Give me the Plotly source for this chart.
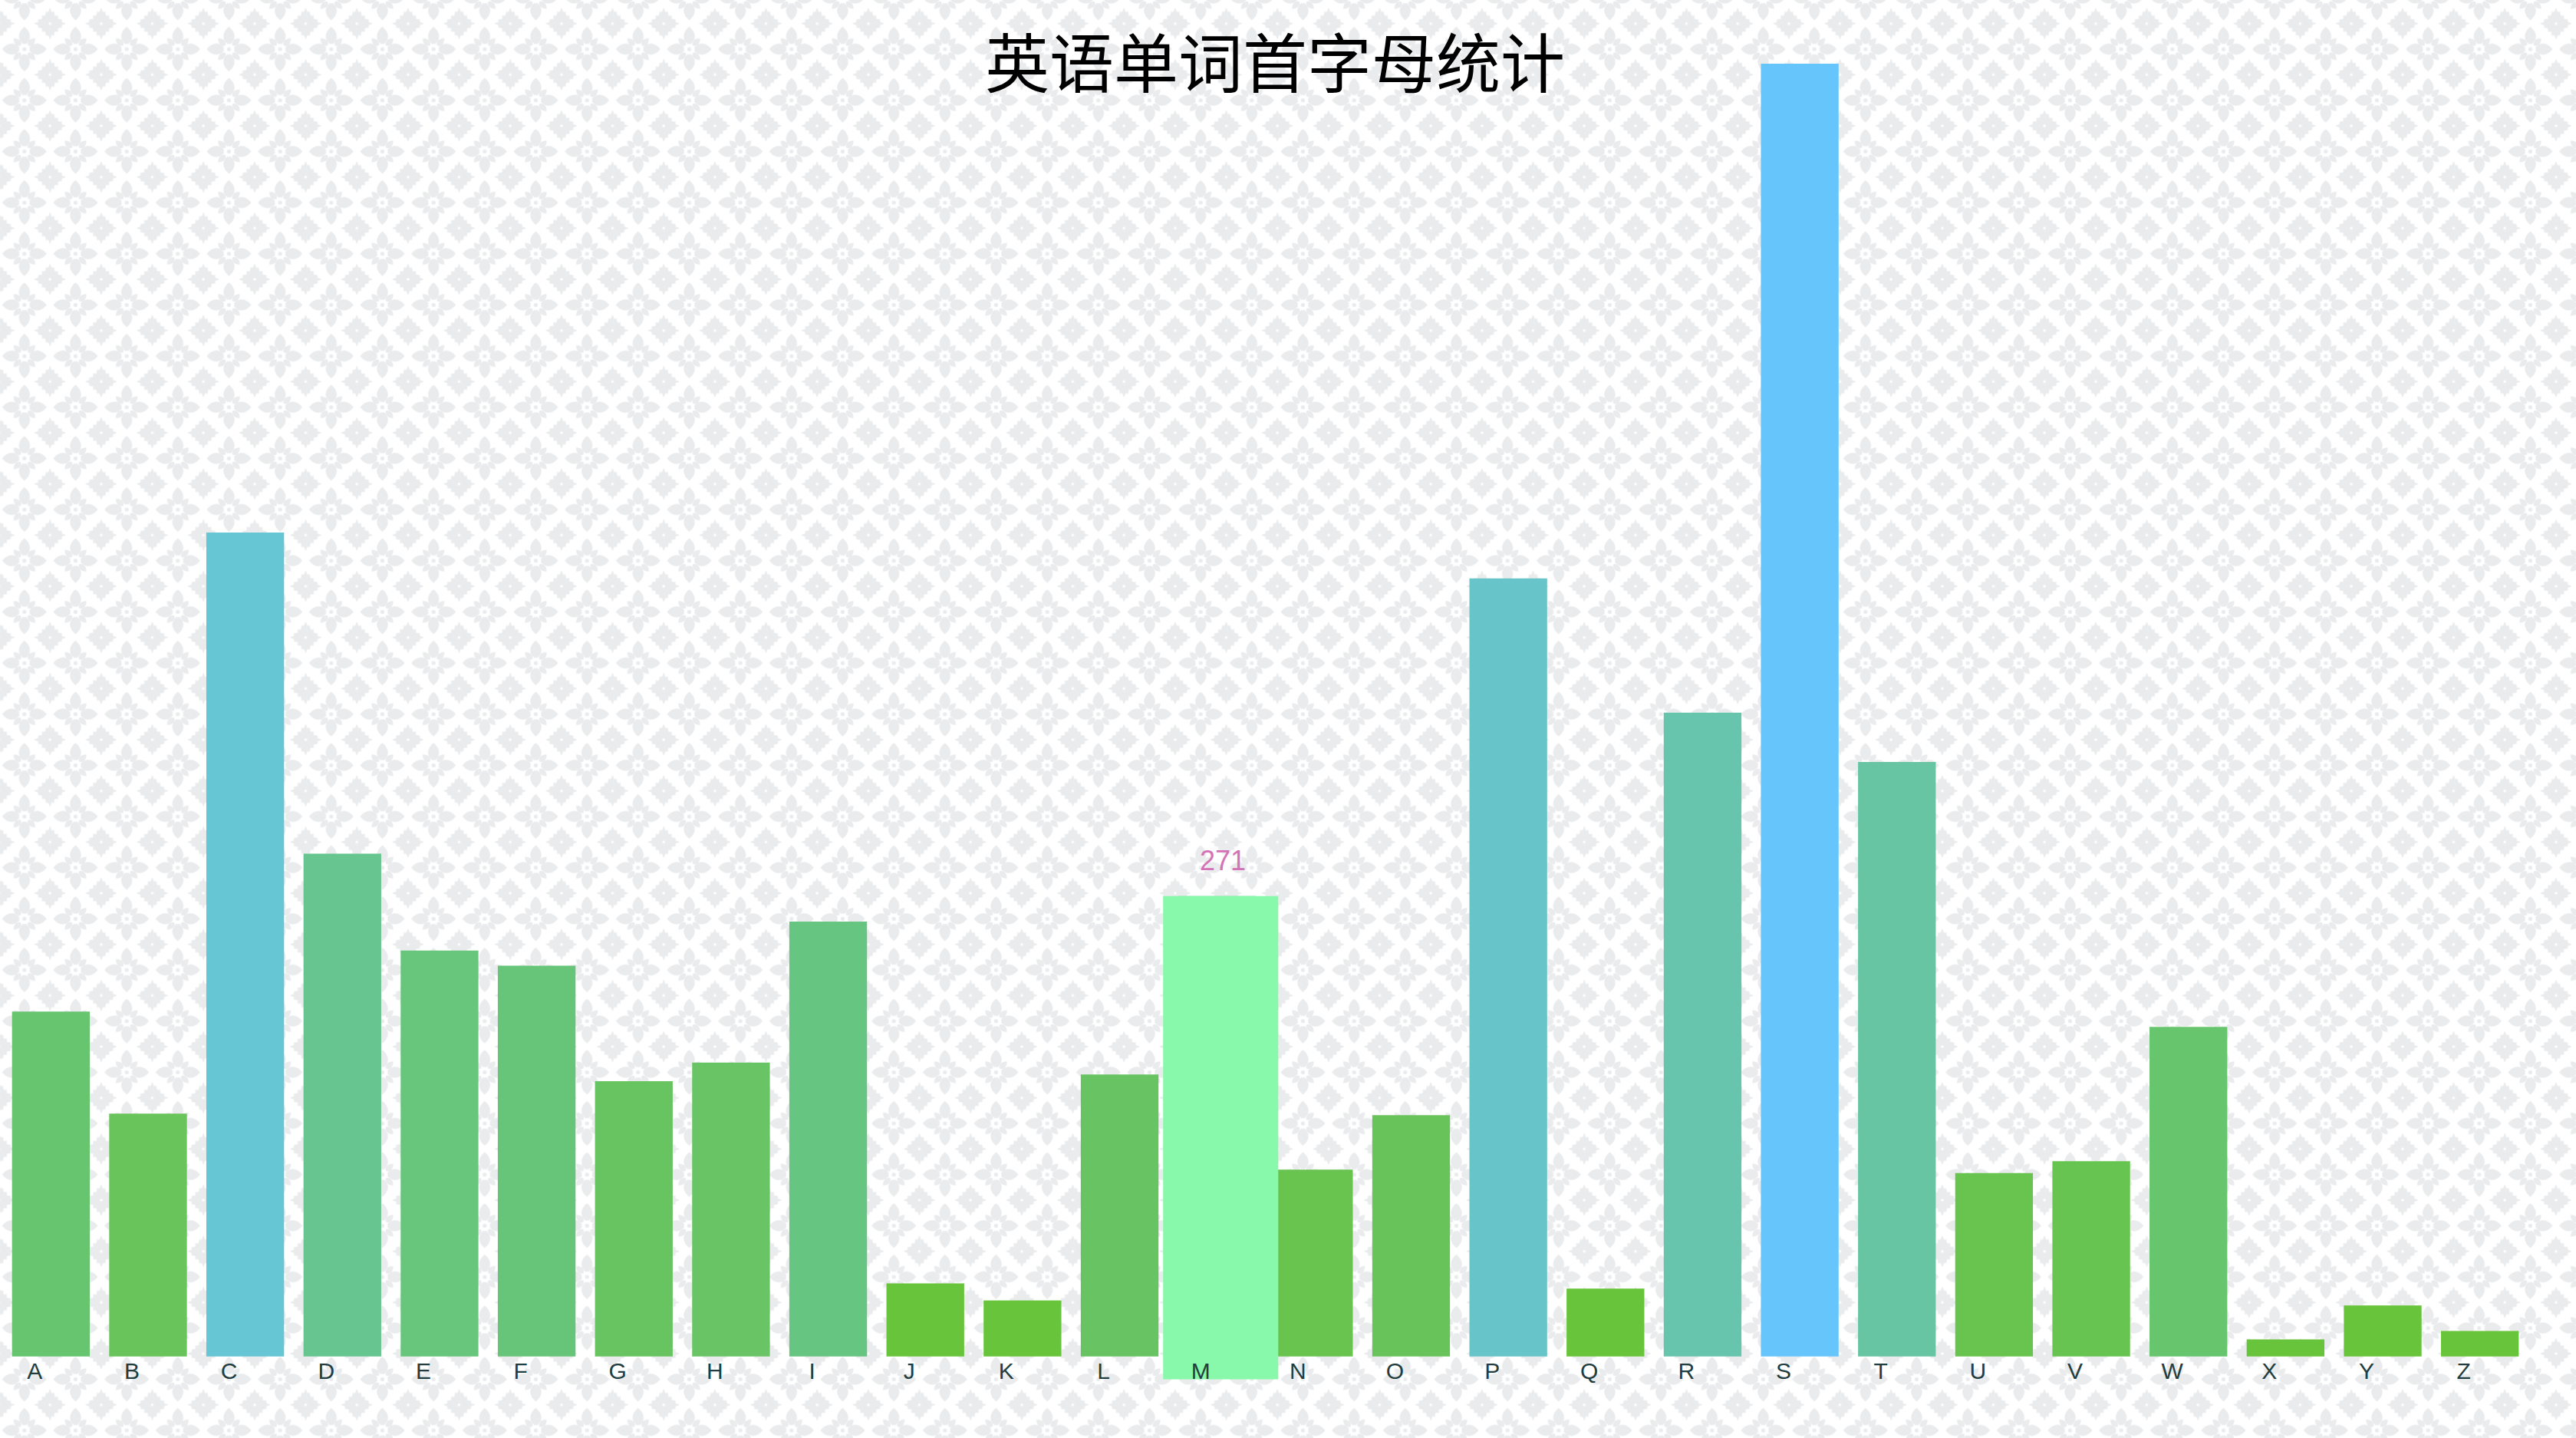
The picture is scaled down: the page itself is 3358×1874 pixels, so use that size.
import base64, math
import plotly.graph_objects as go

# ---------------- data ----------------
letters = list("ABCDEFGHIJKLMNOPQRSTUVWXYZ")
counts = [203, 143, 485, 296, 239, 230, 162, 173, 256, 43, 33, 166, 271,
          110, 142, 458, 40, 379, 761, 350, 108, 115, 194, 10, 30, 15]
highlight_letter = "M"
title_text = "英语单词首字母统计"

# ---------------- page geometry ----------------
W, H = 3358, 1874
ML, MR, MT, MB = 3, 62, 41, 62
PW, PH = W - ML - MR, H - MT - MB
Y_MIN, Y_MAX = -20, 780

# ---------------- background pattern (svg data uri) ----------------
def star_path(cx, cy, R=21.0, n=4, notch=3.2):
    verts = [(0, -R), (R, 0), (0, R), (-R, 0)]
    pts = []
    for i in range(4):
        a = verts[i]; b = verts[(i + 1) % 4]
        for k in range(n):
            t0 = k / n
            pts.append((a[0] + (b[0] - a[0]) * t0, a[1] + (b[1] - a[1]) * t0))
            tm = (k + 0.5) / n
            mx, my = a[0] + (b[0] - a[0]) * tm, a[1] + (b[1] - a[1]) * tm
            d = math.hypot(mx, my)
            f = (d - notch) / d
            pts.append((mx * f, my * f))
    s = "M" + " L".join(f"{cx + x:.2f},{cy + y:.2f}" for x, y in pts) + " Z"
    return s

def flower(cx, cy):
    g = []
    big = "M0,-5 C9,-11 10,-21 0,-29 C-10,-21 -9,-11 0,-5 Z"
    small = "M0,-6 C5,-10 5,-15 0,-20 C-5,-15 -5,-10 0,-6 Z"
    for ang in (0, 90, 180, 270):
        g.append(f"<path d='{big}' transform='translate({cx},{cy}) rotate({ang})'/>")
    for ang in (45, 135, 225, 315):
        g.append(f"<path d='{small}' transform='translate({cx},{cy}) rotate({ang})'/>")
    g.append(f"<circle cx='{cx}' cy='{cy}' r='7' fill='#ffffff'/>")
    g.append(f"<circle cx='{cx}' cy='{cy}' r='2.6'/>")
    return "".join(g)

T = 200 / 3
tile = []
for (sx, sy) in [(0, 0), (T, 0), (0, T), (T, T)]:
    tile.append(f"<path d='{star_path(sx, sy)}'/>")
    tile.append(f"<circle cx='{sx}' cy='{sy}' r='1.8' fill='#ffffff'/>")
tile.append(flower(T / 2, T / 2))
svg = (
    f"<svg xmlns='http://www.w3.org/2000/svg' width='{W}' height='{H}' viewBox='0 0 {W} {H}'>"
    f"<defs><pattern id='p' patternUnits='userSpaceOnUse' x='-1.5' y='30.7' width='{T}' height='{T}'>"
    f"<rect width='{T}' height='{T}' fill='#ffffff'/>"
    f"<g fill='#e9ebed'>{''.join(tile)}</g>"
    f"</pattern></defs><rect width='{W}' height='{H}' fill='url(#p)'/></svg>"
)
bg_src = "data:image/svg+xml;base64," + base64.b64encode(svg.encode()).decode()

# ---------------- figure ----------------
fig = go.Figure()
fig.add_trace(go.Bar(
    x=letters, y=counts, width=0.8,
    marker=dict(color=counts, colorscale=[[0, "#68c43a"], [1, "#66c6fb"]],
                cmin=50, cmax=600, line=dict(width=0)),
    hoverinfo="x+y", showlegend=False,
))

hi = letters.index(highlight_letter)
hi_val = counts[hi]
fig.add_trace(go.Bar(
    x=[highlight_letter], y=[hi_val + 13.5], base=[-13.5], width=1.185,
    offset=-0.5525,
    marker=dict(color="#88f9aa", line=dict(width=0)),
    hoverinfo="skip", showlegend=False,
))
fig.add_annotation(x=highlight_letter, y=hi_val, text=str(hi_val), showarrow=False,
                   yanchor="middle", yshift=46, xshift=8,
                   font=dict(family="Liberation Sans, Arial, sans-serif", size=36, color="#d472b8"))

fig.add_layout_image(dict(
    source=bg_src, xref="paper", yref="paper",
    x=-ML / PW, y=1 + MT / PH, sizex=W / PW, sizey=H / PH,
    xanchor="left", yanchor="top", sizing="stretch", layer="below",
))

fig.update_layout(
    width=W, height=H,
    margin=dict(l=ML, r=MR, t=MT, b=MB, pad=0),
    paper_bgcolor="#ffffff", plot_bgcolor="rgba(0,0,0,0)",
    barmode="overlay",
    title=dict(text=title_text, xref="container", yref="container",
               x=1662 / W, y=1 - 85 / H, xanchor="center", yanchor="middle",
               font=dict(family="Noto Sans CJK SC", size=84, color="#000000")),
    xaxis=dict(type="category", range=[-0.5, 25.5], showgrid=False, showline=False,
               zeroline=False, ticks="", anchor="free", position=(0 - Y_MIN) / (Y_MAX - Y_MIN),
               ticklabelshift=-21, ticklabelstandoff=-2,
               tickfont=dict(family="Liberation Sans, Arial, sans-serif", size=30, color="#223d3f")),
    yaxis=dict(range=[Y_MIN, Y_MAX], visible=False, showgrid=False, zeroline=False),
)

fig.write_html("out.html", config={"displayModeBar": False},
               post_script="document.body.style.margin='0';document.body.style.overflow='hidden';")
